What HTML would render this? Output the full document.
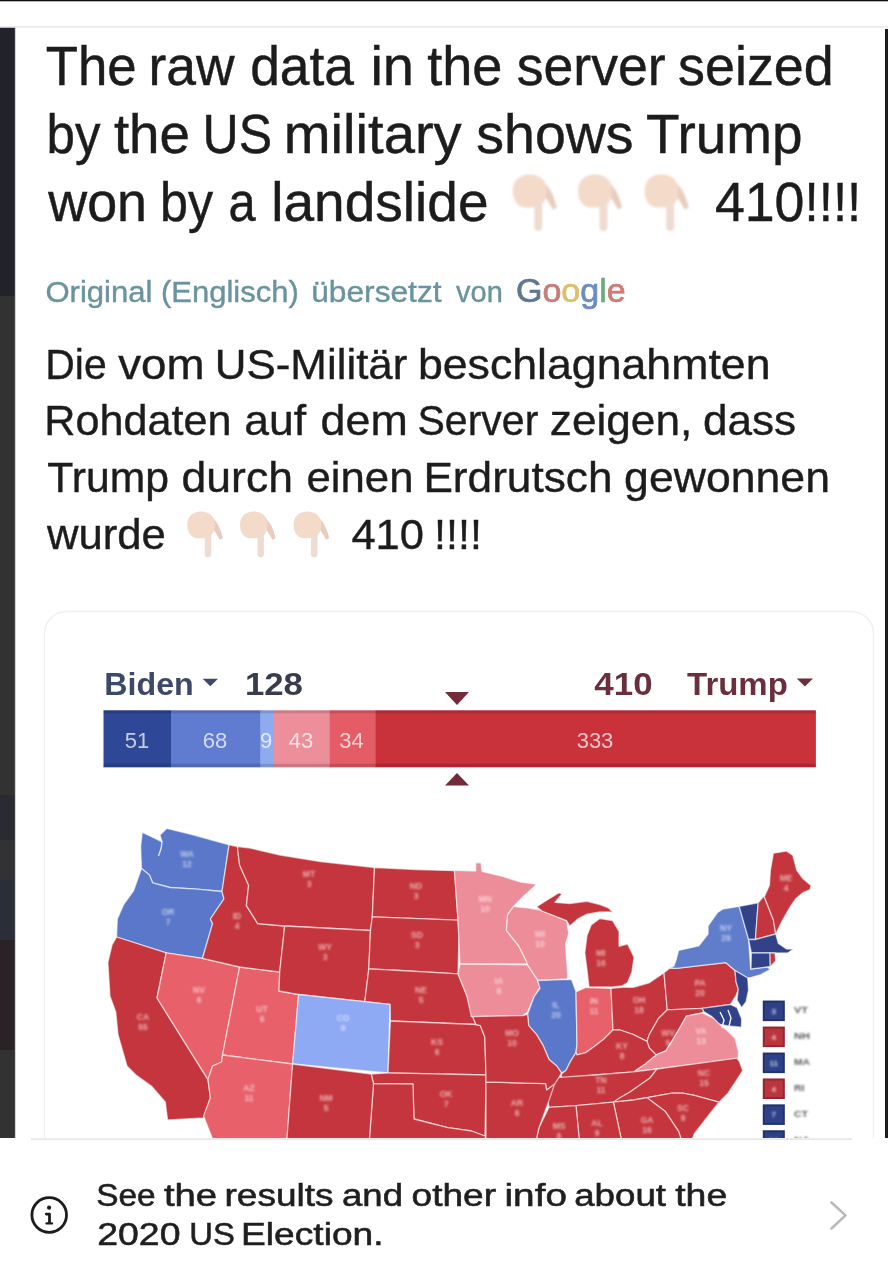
<!DOCTYPE html>
<html><head><meta charset="utf-8"><title>Post</title>
<style>html,body{margin:0;padding:0;background:#fff;}body{width:888px;height:1280px;position:relative;overflow:hidden;}</style>
</head><body>
<svg width="888" height="1280" viewBox="0 0 888 1280" style="position:absolute;left:0;top:0">
<defs><clipPath id="mapclip"><rect x="0" y="800" width="888" height="338"/></clipPath><clipPath id="cardclip"><rect x="0" y="600" width="888" height="538"/></clipPath><clipPath id="photoclip"><rect x="0" y="27.5" width="888" height="1110.5"/></clipPath><filter id="lbl" x="-30%" y="-30%" width="160%" height="160%"><feGaussianBlur stdDeviation="0.8"/></filter><filter id="soft" x="-20%" y="-20%" width="140%" height="140%"><feGaussianBlur stdDeviation="0.5"/></filter><filter id="emo" x="-20%" y="-20%" width="140%" height="140%"><feGaussianBlur stdDeviation="0.9"/></filter><filter id="photo" filterUnits="userSpaceOnUse" x="0" y="0" width="888" height="1280"><feGaussianBlur stdDeviation="0.55"/></filter></defs>
<rect x="0" y="0" width="888" height="1.3" fill="#0d0d0d"/>
<rect x="0" y="26.5" width="888" height="1" fill="#d8d8d8"/>
<g clip-path="url(#photoclip)"><g filter="url(#photo)">
<rect x="0" y="27.5" width="888" height="1111" fill="#fff"/>
<rect x="0" y="27.5" width="15" height="268.5" fill="#212429"/>
<rect x="0" y="296" width="15" height="499" fill="#333333"/>
<rect x="0" y="795" width="15" height="45" fill="#292b31"/>
<rect x="0" y="840" width="15" height="40" fill="#313134"/>
<rect x="0" y="880" width="15" height="60" fill="#2a2e38"/>
<rect x="0" y="940" width="15" height="110" fill="#2c2426"/>
<rect x="0" y="1050" width="15" height="90" fill="#333031"/>
<rect x="14" y="27.5" width="1.5" height="1112" fill="#555" fill-opacity="0.5"/>
<rect x="885" y="29" width="3" height="1110" fill="#1e1e1e"/>
<g transform="translate(511.8,174.5) scale(1.0)" filter="url(#emo)"><path d="M28 5 C37 10 42 20 45 33 L41 35 C37 27 33 21 27 17 Z" fill="#e7cdbf"/><path d="M1 16 C1 6 8 0 18 0 C28 0 35 6 35 16 C35 26 30 33 20 33 L14 33 C6 33 1 26 1 16 Z" fill="#f4dac9"/><rect x="22.5" y="27" width="8" height="29.5" rx="4" fill="#eedcd1"/></g>
<g transform="translate(577,174.5) scale(1.0)" filter="url(#emo)"><path d="M28 5 C37 10 42 20 45 33 L41 35 C37 27 33 21 27 17 Z" fill="#e7cdbf"/><path d="M1 16 C1 6 8 0 18 0 C28 0 35 6 35 16 C35 26 30 33 20 33 L14 33 C6 33 1 26 1 16 Z" fill="#f4dac9"/><rect x="22.5" y="27" width="8" height="29.5" rx="4" fill="#eedcd1"/></g>
<g transform="translate(643.6,174.5) scale(1.0)" filter="url(#emo)"><path d="M28 5 C37 10 42 20 45 33 L41 35 C37 27 33 21 27 17 Z" fill="#e7cdbf"/><path d="M1 16 C1 6 8 0 18 0 C28 0 35 6 35 16 C35 26 30 33 20 33 L14 33 C6 33 1 26 1 16 Z" fill="#f4dac9"/><rect x="22.5" y="27" width="8" height="29.5" rx="4" fill="#eedcd1"/></g>
<g transform="translate(186.5,511.5) scale(0.81)" filter="url(#emo)"><path d="M28 5 C37 10 42 20 45 33 L41 35 C37 27 33 21 27 17 Z" fill="#e7cdbf"/><path d="M1 16 C1 6 8 0 18 0 C28 0 35 6 35 16 C35 26 30 33 20 33 L14 33 C6 33 1 26 1 16 Z" fill="#f4dac9"/><rect x="22.5" y="27" width="8" height="29.5" rx="4" fill="#eedcd1"/></g>
<g transform="translate(239.2,511.5) scale(0.81)" filter="url(#emo)"><path d="M28 5 C37 10 42 20 45 33 L41 35 C37 27 33 21 27 17 Z" fill="#e7cdbf"/><path d="M1 16 C1 6 8 0 18 0 C28 0 35 6 35 16 C35 26 30 33 20 33 L14 33 C6 33 1 26 1 16 Z" fill="#f4dac9"/><rect x="22.5" y="27" width="8" height="29.5" rx="4" fill="#eedcd1"/></g>
<g transform="translate(292.8,511.5) scale(0.81)" filter="url(#emo)"><path d="M28 5 C37 10 42 20 45 33 L41 35 C37 27 33 21 27 17 Z" fill="#e7cdbf"/><path d="M1 16 C1 6 8 0 18 0 C28 0 35 6 35 16 C35 26 30 33 20 33 L14 33 C6 33 1 26 1 16 Z" fill="#f4dac9"/><rect x="22.5" y="27" width="8" height="29.5" rx="4" fill="#eedcd1"/></g>
<text x="516" y="302" font-family="&quot;Liberation Sans&quot;, Arial, sans-serif" font-size="33" stroke-width="0.7" textLength="109.7" lengthAdjust="spacingAndGlyphs"><tspan fill="#5f7590" stroke="#5f7590">G</tspan><tspan fill="#c97b78" stroke="#c97b78">o</tspan><tspan fill="#dbbf6c" stroke="#dbbf6c">o</tspan><tspan fill="#6c8cc6" stroke="#6c8cc6">g</tspan><tspan fill="#72a882" stroke="#72a882">l</tspan><tspan fill="#cd7b72" stroke="#cd7b72">e</tspan></text>
<text x="45.70" y="85" font-family="&quot;Liberation Sans&quot;, Arial, sans-serif" fill="#1b1b1b" stroke="#1b1b1b" stroke-width="0.45" font-size="55" textLength="90.90" lengthAdjust="spacingAndGlyphs">The</text>
<text x="148.50" y="85" font-family="&quot;Liberation Sans&quot;, Arial, sans-serif" fill="#1b1b1b" stroke="#1b1b1b" stroke-width="0.45" font-size="55" textLength="86.00" lengthAdjust="spacingAndGlyphs">raw</text>
<text x="250.20" y="85" font-family="&quot;Liberation Sans&quot;, Arial, sans-serif" fill="#1b1b1b" stroke="#1b1b1b" stroke-width="0.45" font-size="55" textLength="103.80" lengthAdjust="spacingAndGlyphs">data</text>
<text x="370.40" y="85" font-family="&quot;Liberation Sans&quot;, Arial, sans-serif" fill="#1b1b1b" stroke="#1b1b1b" stroke-width="0.45" font-size="55" textLength="43.60" lengthAdjust="spacingAndGlyphs">in</text>
<text x="427.20" y="85" font-family="&quot;Liberation Sans&quot;, Arial, sans-serif" fill="#1b1b1b" stroke="#1b1b1b" stroke-width="0.45" font-size="55" textLength="75.30" lengthAdjust="spacingAndGlyphs">the</text>
<text x="516.70" y="85" font-family="&quot;Liberation Sans&quot;, Arial, sans-serif" fill="#1b1b1b" stroke="#1b1b1b" stroke-width="0.45" font-size="55" textLength="149.00" lengthAdjust="spacingAndGlyphs">server</text>
<text x="678.10" y="85" font-family="&quot;Liberation Sans&quot;, Arial, sans-serif" fill="#1b1b1b" stroke="#1b1b1b" stroke-width="0.45" font-size="55" textLength="155.60" lengthAdjust="spacingAndGlyphs">seized</text>
<text x="46.50" y="153" font-family="&quot;Liberation Sans&quot;, Arial, sans-serif" fill="#1b1b1b" stroke="#1b1b1b" stroke-width="0.45" font-size="55" textLength="53.90" lengthAdjust="spacingAndGlyphs">by</text>
<text x="113.90" y="153" font-family="&quot;Liberation Sans&quot;, Arial, sans-serif" fill="#1b1b1b" stroke="#1b1b1b" stroke-width="0.45" font-size="55" textLength="76.00" lengthAdjust="spacingAndGlyphs">the</text>
<text x="202.60" y="153" font-family="&quot;Liberation Sans&quot;, Arial, sans-serif" fill="#1b1b1b" stroke="#1b1b1b" stroke-width="0.45" font-size="55" textLength="69.50" lengthAdjust="spacingAndGlyphs">US</text>
<text x="283.80" y="153" font-family="&quot;Liberation Sans&quot;, Arial, sans-serif" fill="#1b1b1b" stroke="#1b1b1b" stroke-width="0.45" font-size="55" textLength="177.90" lengthAdjust="spacingAndGlyphs">military</text>
<text x="476.30" y="153" font-family="&quot;Liberation Sans&quot;, Arial, sans-serif" fill="#1b1b1b" stroke="#1b1b1b" stroke-width="0.45" font-size="55" textLength="157.30" lengthAdjust="spacingAndGlyphs">shows</text>
<text x="646.00" y="153" font-family="&quot;Liberation Sans&quot;, Arial, sans-serif" fill="#1b1b1b" stroke="#1b1b1b" stroke-width="0.45" font-size="55" textLength="156.50" lengthAdjust="spacingAndGlyphs">Trump</text>
<text x="48.30" y="221" font-family="&quot;Liberation Sans&quot;, Arial, sans-serif" fill="#1b1b1b" stroke="#1b1b1b" stroke-width="0.45" font-size="55" textLength="98.70" lengthAdjust="spacingAndGlyphs">won</text>
<text x="160.00" y="221" font-family="&quot;Liberation Sans&quot;, Arial, sans-serif" fill="#1b1b1b" stroke="#1b1b1b" stroke-width="0.45" font-size="55" textLength="53.00" lengthAdjust="spacingAndGlyphs">by</text>
<text x="228.50" y="221" font-family="&quot;Liberation Sans&quot;, Arial, sans-serif" fill="#1b1b1b" stroke="#1b1b1b" stroke-width="0.45" font-size="55" textLength="27.10" lengthAdjust="spacingAndGlyphs">a</text>
<text x="271.30" y="221" font-family="&quot;Liberation Sans&quot;, Arial, sans-serif" fill="#1b1b1b" stroke="#1b1b1b" stroke-width="0.45" font-size="55" textLength="217.20" lengthAdjust="spacingAndGlyphs">landslide</text>
<text x="714.90" y="221" font-family="&quot;Liberation Sans&quot;, Arial, sans-serif" fill="#1b1b1b" stroke="#1b1b1b" stroke-width="0.45" font-size="55" textLength="89.60" lengthAdjust="spacingAndGlyphs">410</text>
<text x="804.60" y="221" font-family="&quot;Liberation Sans&quot;, Arial, sans-serif" fill="#1b1b1b" stroke="#1b1b1b" stroke-width="0.45" font-size="55" textLength="56.70" lengthAdjust="spacingAndGlyphs">!!!!</text>
<text x="45.40" y="302" font-family="&quot;Liberation Sans&quot;, Arial, sans-serif" font-size="30" fill="#6a939e" stroke="#6a939e" stroke-width="0.4" textLength="107.00" lengthAdjust="spacingAndGlyphs">Original</text>
<text x="161.00" y="302" font-family="&quot;Liberation Sans&quot;, Arial, sans-serif" font-size="30" fill="#6a939e" stroke="#6a939e" stroke-width="0.4" textLength="137.80" lengthAdjust="spacingAndGlyphs">(Englisch)</text>
<text x="311.20" y="302" font-family="&quot;Liberation Sans&quot;, Arial, sans-serif" font-size="30" fill="#6a939e" stroke="#6a939e" stroke-width="0.4" textLength="130.40" lengthAdjust="spacingAndGlyphs">übersetzt</text>
<text x="456.10" y="302" font-family="&quot;Liberation Sans&quot;, Arial, sans-serif" font-size="30" fill="#6a939e" stroke="#6a939e" stroke-width="0.4" textLength="46.70" lengthAdjust="spacingAndGlyphs">von</text>
<text x="45.30" y="378.7" font-family="&quot;Liberation Sans&quot;, Arial, sans-serif" fill="#1f1f1f" font-size="43" stroke="#1f1f1f" stroke-width="0.4" textLength="61.40" lengthAdjust="spacingAndGlyphs">Die</text>
<text x="118.20" y="378.7" font-family="&quot;Liberation Sans&quot;, Arial, sans-serif" fill="#1f1f1f" font-size="43" stroke="#1f1f1f" stroke-width="0.4" textLength="86.40" lengthAdjust="spacingAndGlyphs">vom</text>
<text x="214.80" y="378.7" font-family="&quot;Liberation Sans&quot;, Arial, sans-serif" fill="#1f1f1f" font-size="43" stroke="#1f1f1f" stroke-width="0.4" textLength="192.60" lengthAdjust="spacingAndGlyphs">US-Militär</text>
<text x="417.90" y="378.7" font-family="&quot;Liberation Sans&quot;, Arial, sans-serif" fill="#1f1f1f" font-size="43" stroke="#1f1f1f" stroke-width="0.4" textLength="352.60" lengthAdjust="spacingAndGlyphs">beschlagnahmten</text>
<text x="44.30" y="435.4" font-family="&quot;Liberation Sans&quot;, Arial, sans-serif" fill="#1f1f1f" font-size="43" stroke="#1f1f1f" stroke-width="0.4" textLength="187.30" lengthAdjust="spacingAndGlyphs">Rohdaten</text>
<text x="244.20" y="435.4" font-family="&quot;Liberation Sans&quot;, Arial, sans-serif" fill="#1f1f1f" font-size="43" stroke="#1f1f1f" stroke-width="0.4" textLength="61.80" lengthAdjust="spacingAndGlyphs">auf</text>
<text x="320.60" y="435.4" font-family="&quot;Liberation Sans&quot;, Arial, sans-serif" fill="#1f1f1f" font-size="43" stroke="#1f1f1f" stroke-width="0.4" textLength="87.20" lengthAdjust="spacingAndGlyphs">dem</text>
<text x="417.50" y="435.4" font-family="&quot;Liberation Sans&quot;, Arial, sans-serif" fill="#1f1f1f" font-size="43" stroke="#1f1f1f" stroke-width="0.4" textLength="120.80" lengthAdjust="spacingAndGlyphs">Server</text>
<text x="549.80" y="435.4" font-family="&quot;Liberation Sans&quot;, Arial, sans-serif" fill="#1f1f1f" font-size="43" stroke="#1f1f1f" stroke-width="0.4" textLength="142.50" lengthAdjust="spacingAndGlyphs">zeigen,</text>
<text x="702.90" y="435.4" font-family="&quot;Liberation Sans&quot;, Arial, sans-serif" fill="#1f1f1f" font-size="43" stroke="#1f1f1f" stroke-width="0.4" textLength="93.20" lengthAdjust="spacingAndGlyphs">dass</text>
<text x="47.30" y="492.1" font-family="&quot;Liberation Sans&quot;, Arial, sans-serif" fill="#1f1f1f" font-size="43" stroke="#1f1f1f" stroke-width="0.4" textLength="121.70" lengthAdjust="spacingAndGlyphs">Trump</text>
<text x="181.60" y="492.1" font-family="&quot;Liberation Sans&quot;, Arial, sans-serif" fill="#1f1f1f" font-size="43" stroke="#1f1f1f" stroke-width="0.4" textLength="111.30" lengthAdjust="spacingAndGlyphs">durch</text>
<text x="306.40" y="492.1" font-family="&quot;Liberation Sans&quot;, Arial, sans-serif" fill="#1f1f1f" font-size="43" stroke="#1f1f1f" stroke-width="0.4" textLength="107.10" lengthAdjust="spacingAndGlyphs">einen</text>
<text x="423.40" y="492.1" font-family="&quot;Liberation Sans&quot;, Arial, sans-serif" fill="#1f1f1f" font-size="43" stroke="#1f1f1f" stroke-width="0.4" textLength="189.10" lengthAdjust="spacingAndGlyphs">Erdrutsch</text>
<text x="624.10" y="492.1" font-family="&quot;Liberation Sans&quot;, Arial, sans-serif" fill="#1f1f1f" font-size="43" stroke="#1f1f1f" stroke-width="0.4" textLength="205.90" lengthAdjust="spacingAndGlyphs">gewonnen</text>
<text x="46.90" y="548.8" font-family="&quot;Liberation Sans&quot;, Arial, sans-serif" fill="#1f1f1f" font-size="43" stroke="#1f1f1f" stroke-width="0.4" textLength="119.00" lengthAdjust="spacingAndGlyphs">wurde</text>
<text x="351.40" y="548.8" font-family="&quot;Liberation Sans&quot;, Arial, sans-serif" fill="#1f1f1f" font-size="43" stroke="#1f1f1f" stroke-width="0.4" textLength="72.60" lengthAdjust="spacingAndGlyphs">410</text>
<text x="434.10" y="548.8" font-family="&quot;Liberation Sans&quot;, Arial, sans-serif" fill="#1f1f1f" font-size="43" stroke="#1f1f1f" stroke-width="0.4" textLength="47.90" lengthAdjust="spacingAndGlyphs">!!!!</text>
<rect x="44.5" y="611.5" width="829" height="600" rx="22" fill="none" stroke="#efefef" stroke-width="1.4" clip-path="url(#cardclip)"/>
<text x="104.30" y="694.5" font-family="&quot;Liberation Sans&quot;, Arial, sans-serif" font-weight="bold" font-size="32" fill="#3c4868" textLength="89.40" lengthAdjust="spacingAndGlyphs">Biden</text>
<text x="244.90" y="694.5" font-family="&quot;Liberation Sans&quot;, Arial, sans-serif" font-weight="bold" font-size="32" fill="#393c4e" textLength="58.10" lengthAdjust="spacingAndGlyphs">128</text>
<text x="594.30" y="695" font-family="&quot;Liberation Sans&quot;, Arial, sans-serif" font-weight="bold" font-size="32" fill="#6a2f3e" textLength="58.30" lengthAdjust="spacingAndGlyphs">410</text>
<text x="687.10" y="695" font-family="&quot;Liberation Sans&quot;, Arial, sans-serif" font-weight="bold" font-size="32" fill="#6a2f3e" textLength="100.70" lengthAdjust="spacingAndGlyphs">Trump</text>
<polygon points="202.7,678.8 218,678.8 210.3,686.3" fill="#3c4868"/>
<polygon points="796.8,678.4 813,678.4 804.9,686.4" fill="#6a2f3e"/>
<rect x="103.5" y="710.3" width="67.8" height="57" fill="#2e4796"/>
<rect x="171" y="710.3" width="89.8" height="57" fill="#5f7bd0"/>
<rect x="260.5" y="710.3" width="13.8" height="57" fill="#8fabf0"/>
<rect x="274" y="710.3" width="56.0" height="57" fill="#ec8f9b"/>
<rect x="329.7" y="710.3" width="45.9" height="57" fill="#e45c66"/>
<rect x="375.3" y="710.3" width="440.6" height="57" fill="#c9303a"/>
<rect x="103.5" y="710.3" width="712" height="3" fill="#000" fill-opacity="0.13"/>
<rect x="103.5" y="763.8" width="712" height="3.5" fill="#000" fill-opacity="0.15"/>
<text x="137" y="748" font-family="&quot;Liberation Sans&quot;, Arial, sans-serif" font-size="22" fill="#fff" fill-opacity="0.72" text-anchor="middle">51</text>
<text x="215" y="748" font-family="&quot;Liberation Sans&quot;, Arial, sans-serif" font-size="22" fill="#fff" fill-opacity="0.72" text-anchor="middle">68</text>
<text x="266" y="748" font-family="&quot;Liberation Sans&quot;, Arial, sans-serif" font-size="22" fill="#fff" fill-opacity="0.72" text-anchor="middle">9</text>
<text x="301" y="748" font-family="&quot;Liberation Sans&quot;, Arial, sans-serif" font-size="22" fill="#fff" fill-opacity="0.72" text-anchor="middle">43</text>
<text x="351.5" y="748" font-family="&quot;Liberation Sans&quot;, Arial, sans-serif" font-size="22" fill="#fff" fill-opacity="0.72" text-anchor="middle">34</text>
<text x="595" y="748" font-family="&quot;Liberation Sans&quot;, Arial, sans-serif" font-size="22" fill="#fff" fill-opacity="0.72" text-anchor="middle">333</text>
<polygon points="445,692 469,692 457,705" fill="#742a3a"/>
<polygon points="445,785.5 469,785.5 457,773" fill="#742a3a"/>
<g clip-path="url(#mapclip)">
<g stroke="#fff" stroke-opacity="0.6" stroke-width="1.3" stroke-linejoin="round">
<polygon points="142.3,832.3 152.0,837.0 162.0,841.8 160.0,835.0 166.8,828.4 190.0,834.0 210.0,839.5 229.0,844.8 222.0,891.5 196.7,889.1 170.0,887.5 152.6,882.8 149.4,874.9 141.5,868.6 140.7,846.5" fill="#5a77c9"/>
<polygon points="141.5,868.6 149.4,874.9 152.6,882.8 170.0,887.5 196.7,889.1 222.0,891.5 224.0,898.8 210.4,919.0 212.6,923.6 202.5,958.3 166.2,952.8 116.6,937.0 117.3,919.0 123.6,904.7 133.6,890.7" fill="#5a77c9"/>
<polygon points="116.6,937.0 166.2,952.8 157.0,998.0 208.0,1079.6 210.4,1097.7 203.6,1118.0 167.6,1120.0 165.3,1102.0 151.8,1086.4 136.0,1075.0 127.0,1066.0 118.0,1034.6 115.8,1012.0 110.0,996.3 107.9,962.5 112.0,945.0" fill="#c5353c"/>
<polygon points="166.2,952.8 202.5,958.3 239.6,967.0 222.5,1055.0 221.6,1062.0 212.6,1066.0 208.0,1079.6 157.0,998.0" fill="#e7606a"/>
<polygon points="239.6,967.0 279.7,972.0 279.0,991.0 298.6,994.5 292.6,1064.0 222.5,1055.0" fill="#e7606a"/>
<polygon points="222.5,1055.0 292.6,1064.0 287.0,1140.0 213.0,1140.0 203.6,1116.0 210.4,1097.7 208.0,1079.6 212.6,1066.0 221.6,1062.0" fill="#e7606a"/>
<polygon points="229.0,844.8 237.4,846.5 239.6,865.0 248.6,885.3 246.4,905.6 257.7,923.6 284.7,926.0 279.7,972.0 239.6,967.0 202.5,958.3 212.6,923.6 210.4,919.0 224.0,898.8 222.0,891.5" fill="#c5353c"/>
<polygon points="237.4,846.5 250.0,848.1 280.0,855.0 320.0,861.5 374.5,867.5 372.3,916.8 370.5,930.5 284.7,926.0 257.7,923.6 246.4,905.6 248.6,885.3 239.6,865.0" fill="#c5353c"/>
<polygon points="284.7,926.0 370.5,930.5 368.8,968.9 364.8,1001.7 298.6,994.5 279.0,991.0 279.7,972.0" fill="#c5353c"/>
<polygon points="374.5,867.5 415.0,869.5 454.6,870.7 458.0,920.2 372.3,916.8" fill="#c5353c"/>
<polygon points="372.3,916.8 458.0,920.2 459.0,935.0 458.0,973.8 400.0,970.5 368.8,968.9 370.5,930.5" fill="#c5353c"/>
<polygon points="368.8,968.9 400.0,970.5 458.0,973.8 467.0,996.3 472.6,1016.6 476.0,1024.5 390.4,1021.0 390.0,1004.4 364.8,1001.7" fill="#c5353c"/>
<polygon points="298.6,994.5 390.0,1004.4 388.0,1072.9 292.6,1064.0" fill="#8eaaf4"/>
<polygon points="390.4,1021.0 476.0,1024.5 480.3,1025.6 484.8,1036.9 486.0,1075.0 388.0,1072.9" fill="#c5353c"/>
<polygon points="371.2,1074.0 388.0,1072.9 486.0,1075.0 486.0,1084.0 485.0,1136.0 471.5,1131.0 447.8,1127.6 427.6,1122.5 414.0,1119.0 412.9,1084.0 373.5,1083.6" fill="#c5353c"/>
<polygon points="373.5,1083.6 412.9,1084.0 414.0,1119.0 427.6,1122.5 447.8,1127.6 471.5,1131.0 485.0,1136.0 486.0,1145.0 369.0,1145.0" fill="#c5353c"/>
<polygon points="292.6,1064.0 371.2,1074.0 373.5,1083.6 369.0,1145.0 286.5,1145.0" fill="#c5353c"/>
<polygon points="454.3,870.3 475.7,871.0 475.7,862.8 481.0,862.8 482.0,871.4 503.5,876.7 520.6,882.1 535.6,884.2 535.6,885.3 522.7,897.0 514.2,905.6 507.6,914.6 506.4,930.4 518.8,946.0 525.6,959.6 527.6,964.0 460.0,964.0 458.0,920.2" fill="#ec8d99"/>
<polygon points="460.0,964.0 527.6,964.8 536.6,978.3 540.0,987.3 534.3,996.3 527.6,1012.0 523.0,1015.5 471.3,1016.6 467.0,996.3 458.0,973.8" fill="#ec8d99"/>
<polygon points="514.2,905.6 514.2,906.7 527.0,907.8 539.9,910.0 566.6,920.6 568.7,933.4 565.5,944.1 567.7,976.2 567.0,979.0 537.7,980.5 536.6,978.3 527.6,964.8 525.6,959.6 518.8,946.0 506.4,930.4 507.6,914.6" fill="#ec8d99"/>
<polygon points="536.6,906.7 548.4,899.2 559.0,892.8 562.0,894.0 554.8,902.4 569.8,903.5 587.0,901.3 599.8,904.6 608.3,907.8 612.6,912.0 599.8,912.0 587.0,914.2 578.4,918.5 569.8,926.0 566.6,920.6 542.0,911.0" fill="#c5353c"/>
<polygon points="587.0,935.6 591.2,924.9 599.8,918.5 612.6,920.6 619.0,931.3 619.0,946.3 627.6,944.1 634.0,957.0 631.9,972.0 627.6,982.6 622.0,986.0 612.6,987.0 589.0,987.0 587.0,969.8 584.8,952.7" fill="#c5353c"/>
<polygon points="537.7,980.5 571.5,979.4 576.0,991.8 577.0,1043.6 576.0,1052.6 570.4,1061.6 565.9,1070.6 561.4,1072.9 556.8,1066.0 549.0,1059.4 543.3,1045.9 536.6,1034.6 528.7,1025.6 527.6,1014.3 534.3,996.3 540.0,988.4" fill="#5a77c9"/>
<polygon points="576.0,991.8 586.0,987.5 611.0,988.4 613.0,1030.0 604.0,1039.0 595.0,1045.9 586.0,1052.6 577.0,1054.9 576.0,1052.6 577.0,1043.6" fill="#e7606a"/>
<polygon points="611.0,988.4 622.0,987.3 633.5,987.3 649.3,982.8 664.0,972.7 667.3,1009.8 658.3,1018.8 649.3,1034.6 647.0,1041.4 633.5,1034.6 620.0,1030.0 613.0,1030.0" fill="#c5353c"/>
<polygon points="664.0,972.7 670.0,968.0 676.3,968.4 725.7,962.6 735.0,970.5 736.0,981.5 738.3,989.4 736.0,995.7 730.4,1004.5 702.0,1008.3 667.3,1009.8" fill="#c5353c"/>
<polygon points="670.0,968.0 674.0,966.0 676.3,959.4 678.6,950.4 698.8,945.9 708.1,934.0 708.1,926.0 717.6,912.4 723.0,909.0 739.2,906.4 748.6,939.5 750.7,969.2 767.6,967.0 770.0,969.5 760.0,975.0 751.4,977.3 747.7,978.0 735.0,970.5 725.7,962.6 676.3,968.4" fill="#5f7dcb"/>
<polygon points="739.2,906.4 758.2,902.8 756.8,920.5 755.4,939.5 748.6,939.5" fill="#304289"/>
<polygon points="758.2,902.8 763.3,896.8 764.3,896.8 773.4,920.0 775.7,934.0 755.4,939.5 756.8,920.5" fill="#c5353c"/>
<polygon points="764.3,896.8 769.4,885.6 770.4,870.4 773.4,853.2 786.6,851.1 792.7,855.2 796.8,870.4 802.8,878.5 811.0,885.6 810.0,889.7 802.8,892.7 795.7,898.8 790.7,905.9 782.6,920.0 777.7,930.0 775.7,934.0 773.4,920.0" fill="#c5353c"/>
<polygon points="748.6,939.5 755.4,939.5 775.7,934.0 778.4,943.5 786.5,949.0 793.2,949.0 787.8,953.0 775.0,953.0 751.4,953.0" fill="#304289"/>
<polygon points="751.4,953.0 770.0,953.0 770.3,966.5 751.0,969.0" fill="#304289"/>
<polygon points="770.0,953.0 775.0,953.0 775.7,961.0 770.3,966.5" fill="#c5353c"/>
<polygon points="735.0,970.5 747.7,978.0 748.5,990.0 746.0,1002.0 741.6,1007.6 737.0,1000.0 738.3,989.4 736.0,981.5" fill="#304289"/>
<polygon points="702.0,1008.3 730.4,1004.5 737.0,1007.6 741.6,1018.8 741.4,1027.2 728.0,1026.0 717.8,1024.0 711.5,1016.2 703.6,1011.5" fill="#304289"/>
<polygon points="667.3,1009.8 702.0,1008.3 703.6,1011.5 702.0,1013.0 686.3,1016.2 680.8,1026.0 673.6,1038.3 665.8,1050.9 656.0,1054.9 649.3,1048.0 647.0,1041.4 649.3,1034.6 658.3,1018.8" fill="#c5353c"/>
<polygon points="633.5,1071.8 645.0,1064.0 656.0,1054.9 665.8,1050.9 673.6,1038.3 680.8,1026.0 686.3,1016.2 702.0,1013.0 713.0,1017.8 719.4,1024.0 728.8,1032.0 735.0,1038.3 738.3,1051.0 738.3,1058.8" fill="#ec8d99"/>
<polygon points="561.4,1074.0 565.9,1070.6 570.4,1061.6 576.0,1052.6 577.0,1054.9 586.0,1052.6 595.0,1045.9 604.0,1039.0 613.0,1030.0 620.0,1030.0 633.5,1034.6 647.0,1041.4 649.3,1048.0 656.0,1054.9 645.0,1064.0 633.5,1071.8 595.0,1075.0 561.4,1078.5" fill="#c5353c"/>
<polygon points="559.0,1077.4 595.0,1075.0 633.5,1071.8 657.0,1069.0 650.0,1078.0 640.0,1085.0 630.0,1092.0 620.0,1097.7 613.4,1102.2 576.0,1105.6 549.0,1107.3 547.8,1100.0 550.0,1085.3" fill="#c5353c"/>
<polygon points="657.0,1069.0 737.0,1058.2 739.4,1061.6 742.7,1070.6 737.0,1079.6 728.0,1093.2 719.0,1102.2 694.3,1095.4 683.0,1093.2 671.8,1093.2 647.0,1097.7 633.5,1100.0 613.4,1102.2 620.0,1097.7 630.0,1092.0 640.0,1085.0 650.0,1078.0" fill="#c5353c"/>
<polygon points="647.0,1097.7 671.8,1093.2 683.0,1093.2 694.3,1095.4 719.0,1102.2 710.0,1113.4 694.3,1133.7 690.0,1145.0 683.0,1145.0 678.6,1131.4 665.0,1111.2" fill="#c5353c"/>
<polygon points="613.4,1102.2 633.5,1100.0 647.0,1097.7 665.0,1111.2 678.6,1131.4 683.0,1145.0 622.5,1145.0" fill="#c5353c"/>
<polygon points="576.0,1105.6 613.4,1102.2 622.5,1145.0 579.8,1145.0" fill="#c5353c"/>
<polygon points="549.0,1107.3 576.0,1105.6 579.8,1145.0 535.0,1145.0 539.0,1127.6" fill="#c5353c"/>
<polygon points="486.0,1082.0 545.8,1083.6 546.7,1089.8 554.6,1084.0 549.0,1100.5 539.0,1127.6 535.0,1145.0 486.0,1145.0" fill="#c5353c"/>
<polygon points="471.3,1016.6 523.0,1015.5 527.6,1014.3 528.7,1025.6 536.6,1034.6 543.3,1045.9 549.0,1059.4 556.8,1066.0 561.4,1072.9 559.0,1077.4 554.6,1084.0 546.7,1089.8 545.8,1083.6 486.0,1082.0 486.0,1075.0 484.8,1036.9 480.3,1025.6 476.0,1024.5 472.6,1016.6" fill="#c5353c"/>
</g>
<path d="M162 841 L161.2 848 L158.5 856" stroke="#fff" stroke-opacity="0.8" stroke-width="1.4" fill="none"/>
<path d="M720 1012 L724 1020 L722 1028 M728 1010 L731 1018 L729 1026" stroke="#fff" stroke-width="1.3" fill="none"/>
<g font-family="Liberation Sans, sans-serif" font-size="8.5" font-weight="bold" fill="#fff" fill-opacity="0.6" text-anchor="middle" filter="url(#lbl)">
<text x="187" y="857">WA</text><text x="187" y="867">12</text>
<text x="168" y="915">OR</text><text x="168" y="925">7</text>
<text x="143" y="1020">CA</text><text x="143" y="1030">55</text>
<text x="199" y="993">NV</text><text x="199" y="1003">6</text>
<text x="262" y="1012">UT</text><text x="262" y="1022">6</text>
<text x="249" y="1091">AZ</text><text x="249" y="1101">11</text>
<text x="237" y="919">ID</text><text x="237" y="929">4</text>
<text x="309" y="877">MT</text><text x="309" y="887">3</text>
<text x="325" y="950">WY</text><text x="325" y="960">3</text>
<text x="416" y="889">ND</text><text x="416" y="899">3</text>
<text x="417" y="938">SD</text><text x="417" y="948">3</text>
<text x="421" y="993">NE</text><text x="421" y="1003">5</text>
<text x="343" y="1021">CO</text><text x="343" y="1031">9</text>
<text x="437" y="1045">KS</text><text x="437" y="1055">6</text>
<text x="326" y="1101">NM</text><text x="326" y="1111">5</text>
<text x="446" y="1097">OK</text><text x="446" y="1107">7</text>
<text x="485" y="902">MN</text><text x="485" y="912">10</text>
<text x="499" y="984">IA</text><text x="499" y="994">6</text>
<text x="540" y="937">WI</text><text x="540" y="947">10</text>
<text x="601" y="956">MI</text><text x="601" y="966">16</text>
<text x="556" y="1008">IL</text><text x="556" y="1018">20</text>
<text x="594" y="1004">IN</text><text x="594" y="1014">11</text>
<text x="639" y="1003">OH</text><text x="639" y="1013">18</text>
<text x="700" y="986">PA</text><text x="700" y="996">20</text>
<text x="726" y="931">NY</text><text x="726" y="941">29</text>
<text x="786" y="881">ME</text><text x="786" y="891">4</text>
<text x="512" y="1036">MO</text><text x="512" y="1046">10</text>
<text x="622" y="1049">KY</text><text x="622" y="1059">8</text>
<text x="601" y="1083">TN</text><text x="601" y="1093">11</text>
<text x="517" y="1106">AR</text><text x="517" y="1116">6</text>
<text x="559" y="1129">MS</text><text x="559" y="1139">6</text>
<text x="597" y="1126">AL</text><text x="597" y="1136">9</text>
<text x="647" y="1123">GA</text><text x="647" y="1133">16</text>
<text x="668" y="1036">WV</text><text x="668" y="1046">5</text>
<text x="701" y="1034">VA</text><text x="701" y="1044">13</text>
<text x="704" y="1076">NC</text><text x="704" y="1086">15</text>
<text x="683" y="1111">SC</text><text x="683" y="1121">9</text>
</g>
</g>
<g clip-path="url(#mapclip)">
<rect x="762.8" y="1000.6" width="22" height="20.5" fill="#2d4188"/><rect x="763.8" y="1001.6" width="20" height="18.5" fill="none" stroke="#000" stroke-opacity="0.22" stroke-width="2"/>
<text x="773.7" y="1013.6" font-family="Liberation Sans, sans-serif" font-size="8" font-weight="bold" fill="#fff" fill-opacity="0.75" text-anchor="middle" filter="url(#lbl)">3</text>
<text x="794" y="1013.4" font-family="Liberation Sans, sans-serif" font-size="9.5" font-weight="bold" fill="#5a5a5a" filter="url(#lbl)" textLength="14" lengthAdjust="spacingAndGlyphs">VT</text>
<rect x="762.8" y="1026.6" width="22" height="20.5" fill="#bb343e"/><rect x="763.8" y="1027.6" width="20" height="18.5" fill="none" stroke="#000" stroke-opacity="0.22" stroke-width="2"/>
<text x="773.7" y="1039.6" font-family="Liberation Sans, sans-serif" font-size="8" font-weight="bold" fill="#fff" fill-opacity="0.75" text-anchor="middle" filter="url(#lbl)">4</text>
<text x="794" y="1039.3999999999999" font-family="Liberation Sans, sans-serif" font-size="9.5" font-weight="bold" fill="#5a5a5a" filter="url(#lbl)" textLength="16" lengthAdjust="spacingAndGlyphs">NH</text>
<rect x="762.8" y="1052.6" width="22" height="20.5" fill="#2d4188"/><rect x="763.8" y="1053.6" width="20" height="18.5" fill="none" stroke="#000" stroke-opacity="0.22" stroke-width="2"/>
<text x="773.7" y="1065.6" font-family="Liberation Sans, sans-serif" font-size="8" font-weight="bold" fill="#fff" fill-opacity="0.75" text-anchor="middle" filter="url(#lbl)">11</text>
<text x="794" y="1065.3999999999999" font-family="Liberation Sans, sans-serif" font-size="9.5" font-weight="bold" fill="#5a5a5a" filter="url(#lbl)" textLength="16" lengthAdjust="spacingAndGlyphs">MA</text>
<rect x="762.8" y="1078.5" width="22" height="20.5" fill="#bb343e"/><rect x="763.8" y="1079.5" width="20" height="18.5" fill="none" stroke="#000" stroke-opacity="0.22" stroke-width="2"/>
<text x="773.7" y="1091.5" font-family="Liberation Sans, sans-serif" font-size="8" font-weight="bold" fill="#fff" fill-opacity="0.75" text-anchor="middle" filter="url(#lbl)">4</text>
<text x="794" y="1091.3" font-family="Liberation Sans, sans-serif" font-size="9.5" font-weight="bold" fill="#5a5a5a" filter="url(#lbl)" textLength="10.5" lengthAdjust="spacingAndGlyphs">RI</text>
<rect x="762.8" y="1104.4" width="22" height="20.5" fill="#2d4188"/><rect x="763.8" y="1105.4" width="20" height="18.5" fill="none" stroke="#000" stroke-opacity="0.22" stroke-width="2"/>
<text x="773.7" y="1117.4" font-family="Liberation Sans, sans-serif" font-size="8" font-weight="bold" fill="#fff" fill-opacity="0.75" text-anchor="middle" filter="url(#lbl)">7</text>
<text x="794" y="1117.2" font-family="Liberation Sans, sans-serif" font-size="9.5" font-weight="bold" fill="#5a5a5a" filter="url(#lbl)" textLength="14" lengthAdjust="spacingAndGlyphs">CT</text>
<rect x="762.8" y="1130.3" width="22" height="20.5" fill="#2d4188"/><rect x="763.8" y="1131.3" width="20" height="18.5" fill="none" stroke="#000" stroke-opacity="0.22" stroke-width="2"/>
<text x="773.7" y="1143.3" font-family="Liberation Sans, sans-serif" font-size="8" font-weight="bold" fill="#fff" fill-opacity="0.75" text-anchor="middle" filter="url(#lbl)">14</text>
<text x="794" y="1143.1" font-family="Liberation Sans, sans-serif" font-size="9.5" font-weight="bold" fill="#5a5a5a" filter="url(#lbl)" textLength="14" lengthAdjust="spacingAndGlyphs">NJ</text>
</g>
</g></g>
<rect x="31" y="1138.5" width="821" height="1.2" fill="#dcdcdc"/>
<text x="96.30" y="1206" font-family="&quot;Liberation Sans&quot;, Arial, sans-serif" font-size="30.5" fill="#1f1f21" stroke="#1f1f21" stroke-width="0.55" textLength="59.40" lengthAdjust="spacingAndGlyphs">See</text>
<text x="163.90" y="1206" font-family="&quot;Liberation Sans&quot;, Arial, sans-serif" font-size="30.5" fill="#1f1f21" stroke="#1f1f21" stroke-width="0.55" textLength="53.20" lengthAdjust="spacingAndGlyphs">the</text>
<text x="224.50" y="1206" font-family="&quot;Liberation Sans&quot;, Arial, sans-serif" font-size="30.5" fill="#1f1f21" stroke="#1f1f21" stroke-width="0.55" textLength="109.10" lengthAdjust="spacingAndGlyphs">results</text>
<text x="342.00" y="1206" font-family="&quot;Liberation Sans&quot;, Arial, sans-serif" font-size="30.5" fill="#1f1f21" stroke="#1f1f21" stroke-width="0.55" textLength="61.00" lengthAdjust="spacingAndGlyphs">and</text>
<text x="411.60" y="1206" font-family="&quot;Liberation Sans&quot;, Arial, sans-serif" font-size="30.5" fill="#1f1f21" stroke="#1f1f21" stroke-width="0.55" textLength="84.50" lengthAdjust="spacingAndGlyphs">other</text>
<text x="504.50" y="1206" font-family="&quot;Liberation Sans&quot;, Arial, sans-serif" font-size="30.5" fill="#1f1f21" stroke="#1f1f21" stroke-width="0.55" textLength="62.50" lengthAdjust="spacingAndGlyphs">info</text>
<text x="574.20" y="1206" font-family="&quot;Liberation Sans&quot;, Arial, sans-serif" font-size="30.5" fill="#1f1f21" stroke="#1f1f21" stroke-width="0.55" textLength="91.80" lengthAdjust="spacingAndGlyphs">about</text>
<text x="675.20" y="1206" font-family="&quot;Liberation Sans&quot;, Arial, sans-serif" font-size="30.5" fill="#1f1f21" stroke="#1f1f21" stroke-width="0.55" textLength="52.00" lengthAdjust="spacingAndGlyphs">the</text>
<text x="97.20" y="1245" font-family="&quot;Liberation Sans&quot;, Arial, sans-serif" font-size="30.5" fill="#1f1f21" stroke="#1f1f21" stroke-width="0.55" textLength="83.30" lengthAdjust="spacingAndGlyphs">2020</text>
<text x="189.20" y="1245" font-family="&quot;Liberation Sans&quot;, Arial, sans-serif" font-size="30.5" fill="#1f1f21" stroke="#1f1f21" stroke-width="0.55" textLength="45.60" lengthAdjust="spacingAndGlyphs">US</text>
<text x="241.10" y="1245" font-family="&quot;Liberation Sans&quot;, Arial, sans-serif" font-size="30.5" fill="#1f1f21" stroke="#1f1f21" stroke-width="0.55" textLength="142.40" lengthAdjust="spacingAndGlyphs">Election.</text>
<circle cx="49.2" cy="1215" r="17.3" fill="none" stroke="#1c1c1e" stroke-width="2.8"/>
<circle cx="49.1" cy="1207.7" r="2.1" fill="#1c1c1e"/>
<path d="M46.3 1214.1 H49.5 V1222.6" stroke="#1c1c1e" stroke-width="2.8" stroke-linecap="round" stroke-linejoin="round" fill="none"/>
<path d="M46.6 1223.4 H51.9" stroke="#1c1c1e" stroke-width="2.4" stroke-linecap="round" fill="none"/>
<path d="M831.5 1202.5 L845.5 1215.4 L831.5 1228.5" stroke="#b9b9bd" stroke-width="2.6" stroke-linecap="round" stroke-linejoin="round" fill="none"/>
</svg>
</body></html>
